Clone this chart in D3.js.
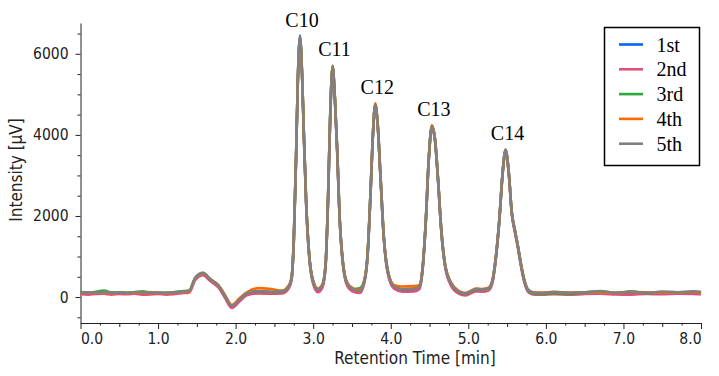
<!DOCTYPE html>
<html>
<head>
<meta charset="utf-8">
<script src="https://cdn.jsdelivr.net/npm/d3@7/dist/d3.min.js"></script>
<style>
  body { margin: 0; background: #fff; }
  svg { display: block; }
  .axis text { font-family: "DejaVu Sans Condensed", "DejaVu Sans", sans-serif; font-stretch: condensed; font-size: 15.5px; fill: #222; }
  .axis path, .axis line { stroke: #222; }
  .title { font-family: "DejaVu Sans Condensed", "DejaVu Sans", sans-serif; font-stretch: condensed; font-size: 17px; fill: #222; }
  .serif { font-family: "Liberation Serif", "Times New Roman", serif; font-size: 20px; fill: #000; }
</style>
</head>
<body>
<div id="chart"></div>
<script>
const width = 719;
const height = 376;

// retention time [min], shared by every run
const times = [
  0.00, 0.10, 0.20, 0.30, 0.40, 0.50, 0.60, 0.70, 0.80, 0.90, 1.00, 1.10, 1.20, 1.30, 1.40,
  1.48, 1.58, 1.67, 1.78, 1.86, 1.95, 2.06, 2.15, 2.30, 2.45, 2.60,
  2.68, 2.72, 2.75, 2.78, 2.80, 2.83, 2.86, 2.88, 2.91, 2.95, 3.00, 3.06,
  3.12, 3.16, 3.19, 3.22, 3.25, 3.28, 3.31, 3.34, 3.38, 3.44, 3.52,
  3.60, 3.66, 3.70, 3.74, 3.77, 3.80, 3.83, 3.87, 3.91, 3.96, 4.04, 4.15, 4.30,
  4.37, 4.41, 4.45, 4.49, 4.53, 4.57, 4.61, 4.65, 4.70, 4.78, 4.88, 4.96, 5.04, 5.10, 5.18, 5.26,
  5.31, 5.35, 5.40, 5.44, 5.48, 5.52, 5.56, 5.60, 5.64, 5.68, 5.72, 5.78, 5.86,
  5.95, 6.10, 6.30, 6.50, 6.70, 6.90, 7.10, 7.30, 7.50, 7.70, 7.90, 8.00
];

// intensity [uV] per run
const run1 = [
  110, 100, 95, 110, 90, 100, 95, 105, 100, 90, 100, 95, 100, 120, 140,
  460, 580, 430, 270, 30, -230, -60, 90, 130, 110, 120,
  230, 440, 1420, 3520, 5230, 6450, 5320, 4010, 2290, 990, 360, 160,
  280, 790, 2310, 4510, 5690, 4890, 3590, 1990, 890, 310, 170,
  140, 390, 1010, 2610, 4010, 4760, 4290, 2880, 1480, 630, 240, 170, 180,
  240, 690, 1810, 3410, 4220, 3890, 2880, 1690, 790, 310, 110, 60, 130, 180, 170, 200,
  380, 890, 1920, 3020, 3640, 3110, 2090, 1640, 1240, 790, 410, 140, 90,
  80, 100, 90, 95, 110, 80, 75, 100, 95, 105, 100, 95
];
const run2 = [
  70, 60, 75, 80, 60, 75, 70, 80, 60, 65, 75, 60, 70, 95, 110,
  420, 540, 400, 230, -10, -270, -90, 50, 90, 80, 90,
  200, 400, 1350, 3450, 5150, 6350, 5250, 3950, 2250, 950, 320, 120,
  240, 740, 2250, 4450, 5620, 4850, 3550, 1950, 850, 270, 130,
  100, 350, 960, 2560, 3960, 4700, 4250, 2850, 1450, 600, 210, 130, 140,
  200, 650, 1760, 3360, 4160, 3850, 2850, 1650, 750, 270, 80, 40, 100, 140, 130, 160,
  340, 850, 1870, 2970, 3580, 3060, 2050, 1600, 1200, 750, 380, 110, 60,
  60, 70, 55, 75, 80, 65, 60, 75, 70, 80, 75, 70
];
const run3 = [
  120, 110, 130, 160, 115, 120, 110, 120, 140, 115, 105, 110, 120, 140, 160,
  480, 600, 450, 285, 45, -205, -30, 110, 145, 125, 140,
  260, 460, 1390, 3490, 5190, 6410, 5290, 3990, 2310, 1010, 390, 200,
  310, 810, 2320, 4520, 5710, 4910, 3610, 2010, 910, 340, 200,
  220, 420, 1010, 2600, 4000, 4750, 4310, 2900, 1500, 660, 280, 200, 210,
  260, 700, 1800, 3400, 4210, 3900, 2900, 1700, 800, 330, 130, 80, 140, 190, 180, 210,
  390, 890, 1900, 3000, 3620, 3100, 2090, 1640, 1240, 790, 420, 140, 90,
  80, 95, 85, 110, 150, 100, 140, 95, 120, 110, 130, 105
];
const run4 = [
  95, 105, 100, 115, 95, 105, 100, 110, 105, 100, 105, 95, 110, 125, 140,
  465, 585, 445, 290, 60, -195, -10, 125, 220, 200, 160,
  270, 470, 1410, 3510, 5210, 6400, 5310, 4020, 2320, 1020, 400, 210,
  320, 820, 2330, 4530, 5700, 4920, 3620, 2020, 920, 350, 210,
  170, 420, 1020, 2620, 4020, 4780, 4320, 2920, 1520, 680, 300, 260, 270,
  300, 720, 1820, 3420, 4240, 3920, 2920, 1720, 820, 350, 150, 100, 160, 210, 200, 230,
  410, 910, 1910, 3010, 3630, 3120, 2110, 1660, 1260, 810, 440, 170, 110,
  110, 130, 110, 120, 110, 105, 125, 120, 105, 110, 130, 100
];
const run5 = [
  100, 115, 105, 125, 105, 110, 100, 125, 115, 105, 110, 100, 115, 130, 150,
  470, 590, 440, 280, 40, -215, -40, 105, 150, 130, 150,
  250, 450, 1400, 3500, 5200, 6420, 5300, 4000, 2300, 1000, 380, 190,
  300, 800, 2300, 4500, 5680, 4900, 3600, 2000, 900, 330, 190,
  150, 400, 1000, 2600, 4000, 4750, 4300, 2900, 1500, 650, 260, 190, 200,
  260, 700, 1800, 3400, 4210, 3900, 2900, 1700, 800, 330, 140, 90, 150, 200, 190, 220,
  400, 900, 1900, 3000, 3620, 3100, 2100, 1650, 1250, 800, 430, 160, 110,
  100, 125, 105, 115, 140, 110, 130, 105, 135, 120, 140, 130
];

const runNames = ["1st", "2nd", "3rd", "4th", "5th"];
const runColors = ["#0a64f0", "#e2507a", "#2ea83a", "#ff6a00", "#808080"];

const peakNames = ["C10", "C11", "C12", "C13", "C14"];
const peakTimes = [2.83, 3.25, 3.80, 4.53, 5.48];
const peakHeights = [6420, 5690, 4760, 4220, 3630];

const xMajor = [0, 1, 2, 3, 4, 5, 6, 7, 8];
const yMajor = [0, 2000, 4000, 6000];

const runs = [run1, run2, run3, run4, run5];

const margin = { left: 80.5, right: 18, top: 23, bottom: 53 };

const svg = d3.select("#chart").append("svg")
  .attr("width", width)
  .attr("height", height);

const x = d3.scaleLinear()
  .domain([0, 8])
  .range([margin.left, width - margin.right]);

const y = d3.scaleLinear()
  .domain([-640, 6760])
  .range([height - margin.bottom, margin.top]);

// minor ticks
const xMinor = d3.range(0, 8.001, 0.25).filter(v => v % 1 !== 0);
const yMinor = d3.range(-500, 6600, 500).filter(v => v % 2000 !== 0);

const xAxisG = svg.append("g")
  .attr("class", "axis")
  .attr("transform", `translate(0,${height - margin.bottom})`);

xAxisG.append("g")
  .call(d3.axisBottom(x).tickValues(xMinor).tickSize(3).tickFormat("").tickSizeOuter(0))
  .call(g => g.selectAll(".tick line").attr("y2", d => (d % 0.5 === 0 ? 4 : 2.5)));

xAxisG.append("g")
  .call(d3.axisBottom(x).tickValues(xMajor).tickSize(6).tickPadding(4)
    .tickFormat(d3.format(".1f")).tickSizeOuter(0))
  .call(g => g.select(".domain").remove())
  .call(g => g.selectAll(".tick text")
    .attr("text-anchor", (d, i) => (i === 0 ? "start" : i === xMajor.length - 1 ? "end" : "middle")));

const yAxisG = svg.append("g")
  .attr("class", "axis")
  .attr("transform", `translate(${margin.left},0)`);

yAxisG.append("g")
  .call(d3.axisLeft(y).tickValues(yMinor).tickSize(3).tickFormat("").tickSizeOuter(0));

yAxisG.append("g")
  .call(d3.axisLeft(y).tickValues(yMajor).tickSize(5).tickPadding(7)
    .tickFormat(d3.format("d")).tickSizeOuter(0))
  .call(g => g.select(".domain").remove());

// axis titles
svg.append("text")
  .attr("class", "title")
  .attr("x", 415)
  .attr("y", height - 12)
  .attr("text-anchor", "middle")
  .text("Retention Time [min]");

svg.append("text")
  .attr("class", "title")
  .attr("transform", `translate(22,${(y.range()[0] + y.range()[1]) / 2 - 3}) rotate(-90)`)
  .attr("text-anchor", "middle")
  .text("Intensity [µV]");

// traces
const line = d3.line()
  .x((d, i) => x(times[i]))
  .y(d => y(d))
  .curve(d3.curveMonotoneX);

svg.append("g")
  .selectAll("path")
  .data(runs)
  .join("path")
  .attr("d", line)
  .attr("fill", "none")
  .attr("stroke", (d, i) => runColors[i])
  .attr("stroke-width", 2.6)
  .attr("stroke-linejoin", "round");

// peak labels
svg.append("g")
  .selectAll("text")
  .data(peakNames)
  .join("text")
  .attr("class", "serif")
  .attr("x", (d, i) => x(peakTimes[i]) + 2)
  .attr("y", (d, i) => y(peakHeights[i]) - 10)
  .attr("text-anchor", "middle")
  .text(d => d);

// legend
const legend = svg.append("g").attr("transform", "translate(604.5,27.5)");

legend.append("rect")
  .attr("width", 95)
  .attr("height", 138)
  .attr("fill", "#fff")
  .attr("stroke", "#000")
  .attr("stroke-width", 1.5);

runNames.forEach((name, i) => {
  const yOffset = 17 + i * 24.8;
  legend.append("line")
    .attr("x1", 14.5)
    .attr("x2", 38.5)
    .attr("y1", yOffset)
    .attr("y2", yOffset)
    .attr("stroke", runColors[i])
    .attr("stroke-width", 2.6);
  legend.append("text")
    .attr("class", "serif")
    .attr("x", 52)
    .attr("y", yOffset + 7)
    .text(name);
});
</script>
</body>
</html>
